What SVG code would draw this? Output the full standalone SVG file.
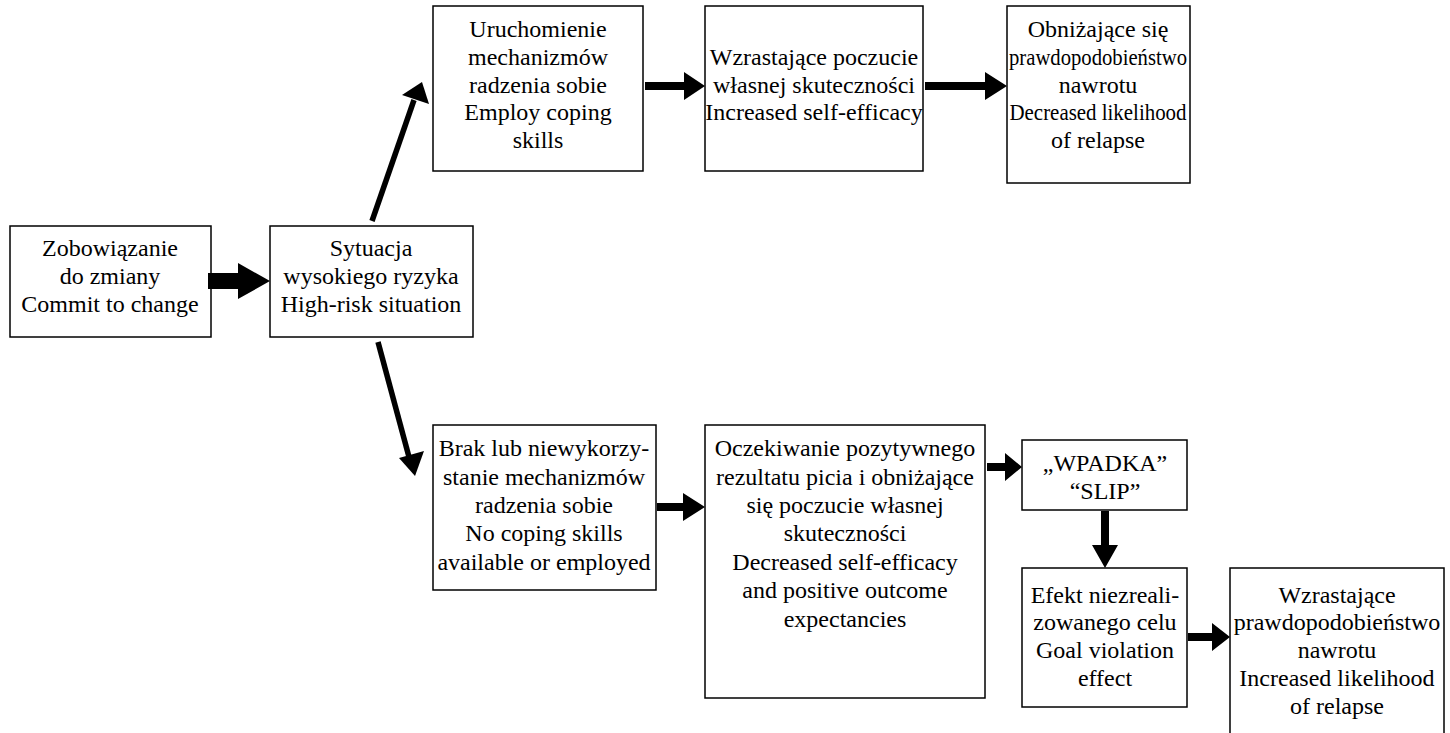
<svg xmlns="http://www.w3.org/2000/svg" width="1450" height="733" viewBox="0 0 1450 733">
<style>
.box{fill:#fff;stroke:#000;stroke-width:1.5}
text{font-family:"Liberation Serif","Times New Roman",serif;font-size:24px;fill:#000;text-anchor:middle}
.ar{fill:#000}
.ln{stroke:#000;stroke-width:5.5;fill:none}
</style>
<rect width="1450" height="733" fill="#fff"/>
<g id="nA"><rect class="box" x="10" y="226" width="201" height="111"/>
<text x="110" y="256">Zobowiązanie</text><text x="110" y="284">do zmiany</text><text x="110" y="312">Commit to change</text></g>
<g id="nB"><rect class="box" x="270" y="226" width="203" height="111"/>
<text x="371" y="256">Sytuacja</text><text x="371" y="284">wysokiego ryzyka</text><text x="371" y="312">High-risk situation</text></g>
<g id="nC"><rect class="box" x="433" y="6" width="210" height="165"/>
<text x="538" y="37">Uruchomienie</text><text x="538" y="65">mechanizmów</text><text x="538" y="93">radzenia sobie</text><text x="538" y="120">Employ coping</text><text x="538" y="148">skills</text></g>
<g id="nD"><rect class="box" x="705" y="6" width="218" height="165"/>
<text x="814" y="65">Wzrastające poczucie</text><text x="814" y="93">własnej skuteczności</text><text x="814" y="120">Increased self-efficacy</text></g>
<g id="nE"><rect class="box" x="1007" y="6" width="183" height="177"/>
<text x="1098" y="37">Obniżające się</text><text x="1098" y="65" textLength="178" lengthAdjust="spacingAndGlyphs">prawdopodobieństwo</text><text x="1098" y="93">nawrotu</text><text x="1098" y="120" textLength="177" lengthAdjust="spacingAndGlyphs">Decreased likelihood</text><text x="1098" y="148">of relapse</text></g>
<g id="nF"><rect class="box" x="433" y="425" width="223" height="165"/>
<text x="544" y="456">Brak lub niewykorzy-</text><text x="544" y="485">stanie mechanizmów</text><text x="544" y="513">radzenia sobie</text><text x="544" y="541">No coping skills</text><text x="544" y="570">available or employed</text></g>
<g id="nG"><rect class="box" x="705" y="425" width="280" height="273"/>
<text x="845" y="456">Oczekiwanie pozytywnego</text><text x="845" y="485">rezultatu picia i obniżające</text><text x="845" y="513">się poczucie własnej</text><text x="845" y="541">skuteczności</text><text x="845" y="570">Decreased self-efficacy</text><text x="845" y="598">and positive outcome</text><text x="845" y="627">expectancies</text></g>
<g id="nH"><rect class="box" x="1022" y="440" width="165" height="70"/>
<text x="1105" y="471">„WPADKA”</text><text x="1105" y="499">“SLIP”</text></g>
<g id="nI"><rect class="box" x="1022" y="568" width="165" height="139"/>
<text x="1105" y="603">Efekt niezreali-</text><text x="1105" y="630">zowanego celu</text><text x="1105" y="658">Goal violation</text><text x="1105" y="686">effect</text></g>
<g id="nJ"><rect class="box" x="1230" y="568" width="214" height="170"/>
<text x="1337" y="603">Wzrastające</text><text x="1337" y="630">prawdopodobieństwo</text><text x="1337" y="658">nawrotu</text><text x="1337" y="686">Increased likelihood</text><text x="1337" y="714">of relapse</text></g>
<g id="connectors">
<polygon class="ar" points="208,273 238,273 238,263 270,281 238,299 238,289 208,289"/>
<line class="ln" x1="372" y1="221" x2="414" y2="100"/>
<polygon class="ar" points="422,82 402,95 429,104"/>
<line class="ln" x1="378" y1="342" x2="409" y2="457"/>
<polygon class="ar" points="415,476 399,458 424,451"/>
<polygon class="ar" points="645,82 684,82 684,72 705,86 684,100 684,90 645,90"/>
<polygon class="ar" points="925,82 985,82 985,72 1007,86 985,100 985,90 925,90"/>
<polygon class="ar" points="657,503 683,503 683,493 705,507 683,521 683,511 657,511"/>
<polygon class="ar" points="987,463 1005,463 1005,453 1022,467 1005,481 1005,471 987,471"/>
<polygon class="ar" points="1101,511 1109,511 1109,545 1118,545 1105,568 1092,545 1101,545"/>
<polygon class="ar" points="1188,633 1212,633 1212,623 1230,637 1212,651 1212,641 1188,641"/>
</g>
</svg>
